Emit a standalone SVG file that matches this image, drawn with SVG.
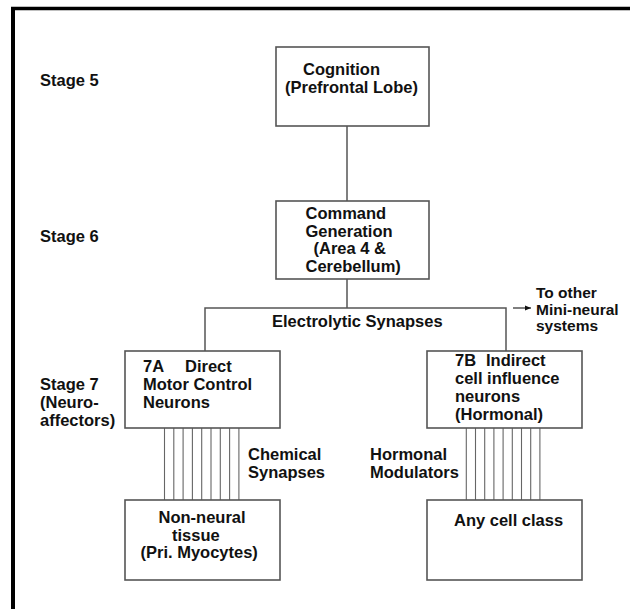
<svg xmlns="http://www.w3.org/2000/svg" width="630" height="609" viewBox="0 0 630 609">
<style>
  text { font-family: "Liberation Sans", Arial, sans-serif; font-weight: bold; font-size: 16.5px; fill: #111; }
  .small { font-size: 15.5px; }
  .box { fill: #fff; stroke: #555; stroke-width: 1.6; }
  .conn { stroke: #555; stroke-width: 1.5; fill: none; }
  .syn { stroke: #666; stroke-width: 1.1; fill: none; }
  .frame { stroke: #000; fill: none; }
</style>
<defs>
  <marker id="arr" viewBox="0 0 10 10" refX="10" refY="5" markerWidth="6" markerHeight="6" markerUnits="userSpaceOnUse" orient="auto">
    <path d="M0,1 L10,5 L0,9 z" fill="#111"/>
  </marker>
</defs>
<rect x="0" y="0" width="630" height="609" fill="#fff"/>
<g id="frame">
  <line class="frame" x1="13" y1="7" x2="13" y2="609" stroke-width="4"/>
  <line class="frame" x1="11" y1="8.5" x2="630" y2="8.5" stroke-width="3.5"/>
</g>
<g id="stage-labels">
  <text x="40" y="86">Stage 5</text>
  <text x="40" y="242">Stage 6</text>
  <text x="40" y="390">Stage 7</text>
  <text x="40" y="408">(Neuro-</text>
  <text x="40" y="426">affectors)</text>
</g>
<g id="connectors">
  <line class="conn" x1="347" y1="126" x2="347" y2="201"/>
  <line class="conn" x1="347" y1="279" x2="347" y2="308"/>
  <polyline class="conn" points="205,351 205,308 506,308 506,351"/>
  <line class="conn" x1="513" y1="308" x2="531" y2="308" marker-end="url(#arr)"/>
  <g id="chemical-synapses">
    <line class="syn" x1="164.5" y1="428" x2="164.5" y2="500"/>
    <line class="syn" x1="173.8" y1="428" x2="173.8" y2="500"/>
    <line class="syn" x1="183.1" y1="428" x2="183.1" y2="500"/>
    <line class="syn" x1="192.4" y1="428" x2="192.4" y2="500"/>
    <line class="syn" x1="201.7" y1="428" x2="201.7" y2="500"/>
    <line class="syn" x1="211" y1="428" x2="211" y2="500"/>
    <line class="syn" x1="220.3" y1="428" x2="220.3" y2="500"/>
    <line class="syn" x1="229.6" y1="428" x2="229.6" y2="500"/>
    <line class="syn" x1="238.9" y1="428" x2="238.9" y2="500"/>
  </g>
  <g id="hormonal-modulators">
    <line class="syn" x1="466.3" y1="428" x2="466.3" y2="500"/>
    <line class="syn" x1="475.5" y1="428" x2="475.5" y2="500"/>
    <line class="syn" x1="484.7" y1="428" x2="484.7" y2="500"/>
    <line class="syn" x1="493.9" y1="428" x2="493.9" y2="500"/>
    <line class="syn" x1="503.1" y1="428" x2="503.1" y2="500"/>
    <line class="syn" x1="512.3" y1="428" x2="512.3" y2="500"/>
    <line class="syn" x1="521.5" y1="428" x2="521.5" y2="500"/>
    <line class="syn" x1="530.7" y1="428" x2="530.7" y2="500"/>
    <line class="syn" x1="539.9" y1="428" x2="539.9" y2="500"/>
  </g>
  <text x="272" y="327">Electrolytic Synapses</text>
  <text class="small" x="536" y="298">To other</text>
  <text class="small" x="536" y="314.5">Mini-neural</text>
  <text class="small" x="536" y="331">systems</text>
  <text x="248" y="460">Chemical</text>
  <text x="248" y="478">Synapses</text>
  <text x="370" y="460">Hormonal</text>
  <text x="370" y="478">Modulators</text>
</g>
<g id="cognition">
  <rect class="box" x="276" y="47" width="153" height="79"/>
  <text x="303" y="75">Cognition</text>
  <text x="285" y="93">(Prefrontal Lobe)</text>
</g>
<g id="command">
  <rect class="box" x="276" y="201" width="153" height="78"/>
  <text x="305.5" y="219">Command</text>
  <text x="305.5" y="237">Generation</text>
  <text x="313.5" y="254">(Area 4 &amp;</text>
  <text x="305.5" y="272">Cerebellum)</text>
</g>
<g id="node-7a">
  <rect class="box" x="125" y="351" width="155" height="77"/>
  <text x="143" y="372">7A</text>
  <text x="185" y="372">Direct</text>
  <text x="143" y="390">Motor Control</text>
  <text x="143" y="408">Neurons</text>
</g>
<g id="node-7b">
  <rect class="box" x="427" y="351" width="155" height="77"/>
  <text x="455" y="366">7B</text>
  <text x="486" y="366">Indirect</text>
  <text x="455" y="384">cell influence</text>
  <text x="455" y="402">neurons</text>
  <text x="455" y="420">(Hormonal)</text>
</g>
<g id="non-neural">
  <rect class="box" x="125" y="500" width="155" height="80"/>
  <text x="158.5" y="523">Non-neural</text>
  <text x="172" y="540.5">tissue</text>
  <text x="140.5" y="558">(Pri. Myocytes)</text>
</g>
<g id="any-cell">
  <rect class="box" x="427" y="500" width="155" height="80"/>
  <text x="454" y="526">Any cell class</text>
</g>
</svg>
